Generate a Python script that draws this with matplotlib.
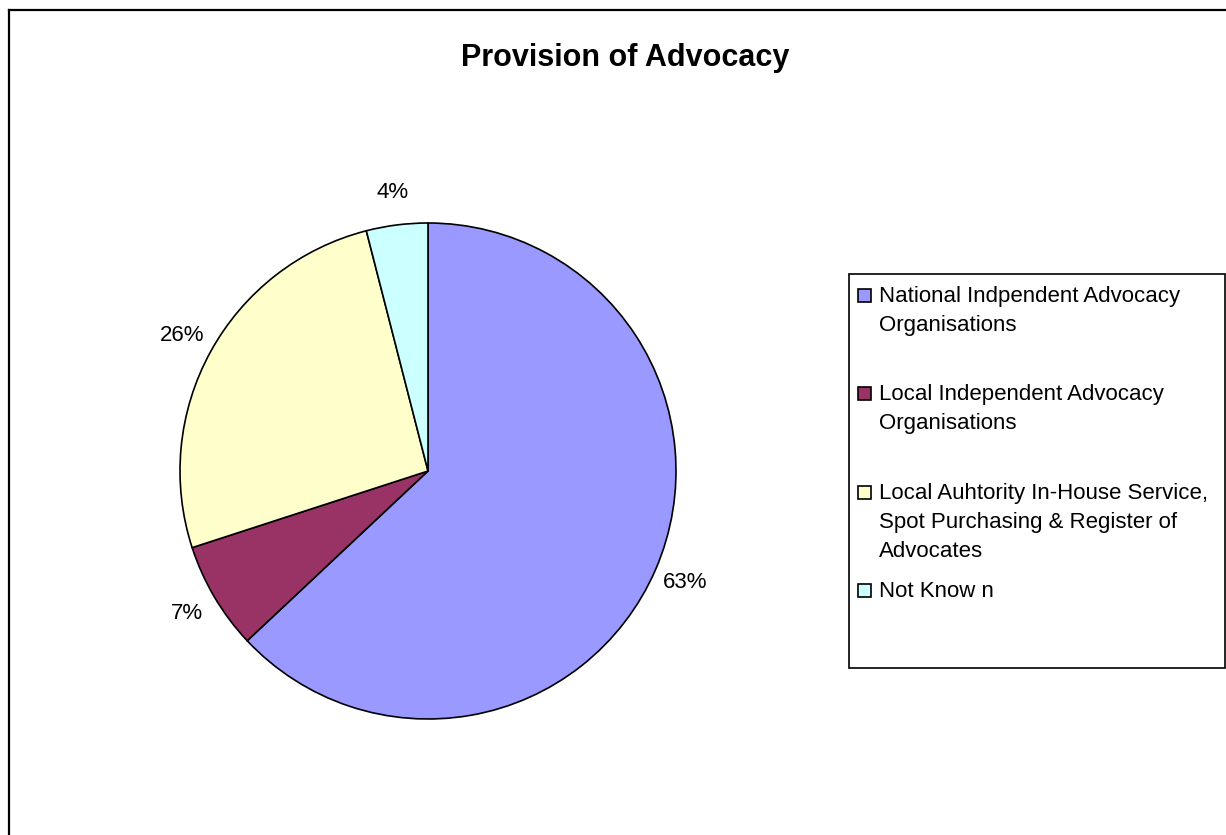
import matplotlib.pyplot as plt
from matplotlib.patches import Rectangle
from matplotlib.lines import Line2D

plt.rcParams['font.family'] = ['Liberation Sans', 'DejaVu Sans']

# data
title = "Provision of Advocacy"
categories = [
    "National Indpendent Advocacy\nOrganisations",
    "Local Independent Advocacy\nOrganisations",
    "Local Auhtority In-House Service,\nSpot Purchasing & Register of\nAdvocates",
    "Not Know n",
]
values = [63, 7, 26, 4]
colors = ["#9999FF", "#993366", "#FFFFCC", "#CCFFFF"]

W, H = 1226, 835
fig = plt.figure(figsize=(W / 100, H / 100), dpi=100)


def fx(px):
    return px / W


def fy(py):
    return 1 - py / H


# chart area border (left and top visible)
fig.add_artist(Line2D([fx(9), fx(9)], [fy(10), 0], color="black", lw=1.6))
fig.add_artist(Line2D([fx(9), 1], [fy(10), fy(10)], color="black", lw=1.6))

# pie axes: center (428, 471), radius 248 px
cx, cy, r = 428, 471, 248
ax = fig.add_axes([fx(cx - r), fy(cy + r), 2 * r / W, 2 * r / H])
ax.pie(values, colors=colors, startangle=90, counterclock=False, radius=1,
       autopct="%d%%", pctdistance=1.13,
       wedgeprops=dict(edgecolor="black", linewidth=1.2),
       textprops=dict(fontsize=16, color="black"))
ax.set_xlim(-1, 1)
ax.set_ylim(-1, 1)
ax.set_aspect("equal")
ax.axis("off")

fig.text(fx(625), fy(58), title, ha="center", va="center",
         fontsize=22, fontweight="bold")

# legend box drawn Excel-style
fig.add_artist(Rectangle((fx(849), fy(668)), fx(1225) - fx(849), fy(274) - fy(668),
                         transform=fig.transFigure, facecolor="white",
                         edgecolor="black", lw=1.2))
base0, step, line_h = 302, 98.3, 29
for i, (lab, col) in enumerate(zip(categories, colors)):
    b = base0 + i * step
    fig.add_artist(Rectangle((fx(858), fy(b)), 13 / W, 13 / H,
                             transform=fig.transFigure, facecolor=col,
                             edgecolor="black", lw=1.2))
    for k, line in enumerate(lab.split("\n")):
        fig.text(fx(879), fy(b + k * line_h), line, ha="left", va="baseline",
                 fontsize=16)

fig.savefig("out.png", dpi=100)
